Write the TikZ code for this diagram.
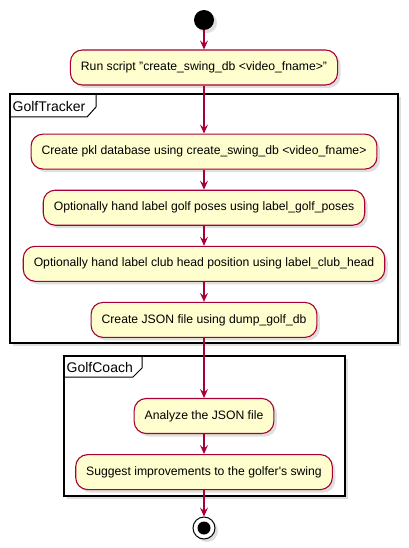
\documentclass[tikz,border=0pt]{standalone}
\usepackage{fontspec}
\setmainfont{Liberation Sans}
\usetikzlibrary{positioning,arrows.meta,shadows}
\definecolor{umlred}{HTML}{A80036}
\definecolor{umlfill}{HTML}{FEFECE}

\begin{document}
\begin{tikzpicture}[
  x=1pt,y=-1pt,
  font=\fontsize{12.2}{14}\selectfont,
  act/.style={rectangle,rounded corners=12pt,draw=umlred,line width=1.1pt,fill=umlfill,
              minimum height=35pt,inner xsep=10.5pt,
              drop shadow={opacity=0.25,shadow xshift=3pt,shadow yshift=-3pt}},
  frm/.style={draw=black,line width=1.5pt,fill=white,
              drop shadow={opacity=0.25,shadow xshift=3pt,shadow yshift=-3pt}},
  tab/.style={draw=black,line width=1pt},
  arr/.style={-{Stealth[length=9pt,width=8pt,inset=3.5pt]},umlred,line width=1.1pt},
]
\useasboundingbox (0,0) rectangle (408,548);

% ---------- frames ----------
\draw[frm] (10,94) rectangle (398,343);
\draw[tab] (10,117) -- (87,117) -- (96,107) -- (96,94);
\node[anchor=west,font=\fontsize{14}{16}\selectfont,inner sep=0pt] (trk) at (12.5,106) {GolfTracker};

\draw[frm] (64,356) rectangle (345,496);
\draw[tab] (64,377) -- (133,377) -- (142,368) -- (142,356);
\node[anchor=west,font=\fontsize{14}{16}\selectfont,inner sep=0pt] (cch) at (66.5,367) {GolfCoach};

% ---------- activities ----------
\node[circle,fill=black,minimum size=20pt,inner sep=0pt,
      drop shadow={opacity=0.25,shadow xshift=3pt,shadow yshift=-3pt}] (start) at (204,20) {};
\node[act] (run) at (204,67.5) {Run script "create\_swing\_db <video\_fname>"};
\node[act,below=48pt of run] (pkl) {Create pkl database using create\_swing\_db <video\_fname>};
\node[act,below=20pt of pkl] (pose) {Optionally hand label golf poses using label\_golf\_poses};
\node[act,below=20pt of pose] (club) {Optionally hand label club head position using label\_club\_head};
\node[act,below=20pt of club] (json) {Create JSON file using dump\_golf\_db};
\node[act,below=60pt of json] (anl) {Analyze the JSON file};
\node[act,below=20pt of anl] (sug) {Suggest improvements to the golfer\textquotesingle s swing};
\node[circle,draw=black,line width=1pt,fill=white,minimum size=22pt,inner sep=0pt,
      path picture={\fill[black] (path picture bounding box.center) circle (6.5pt);},
      drop shadow={opacity=0.25,shadow xshift=3pt,shadow yshift=-3pt}] (stop) at (204,528) {};

% ---------- flow ----------
\draw[arr] (start) -- (run);
\draw[arr] (run) -- (pkl);
\draw[arr] (pkl) -- (pose);
\draw[arr] (pose) -- (club);
\draw[arr] (club) -- (json);
\draw[arr] (json) -- (anl);
\draw[arr] (anl) -- (sug);
\draw[arr] (sug) -- (stop);
\end{tikzpicture}
\end{document}
